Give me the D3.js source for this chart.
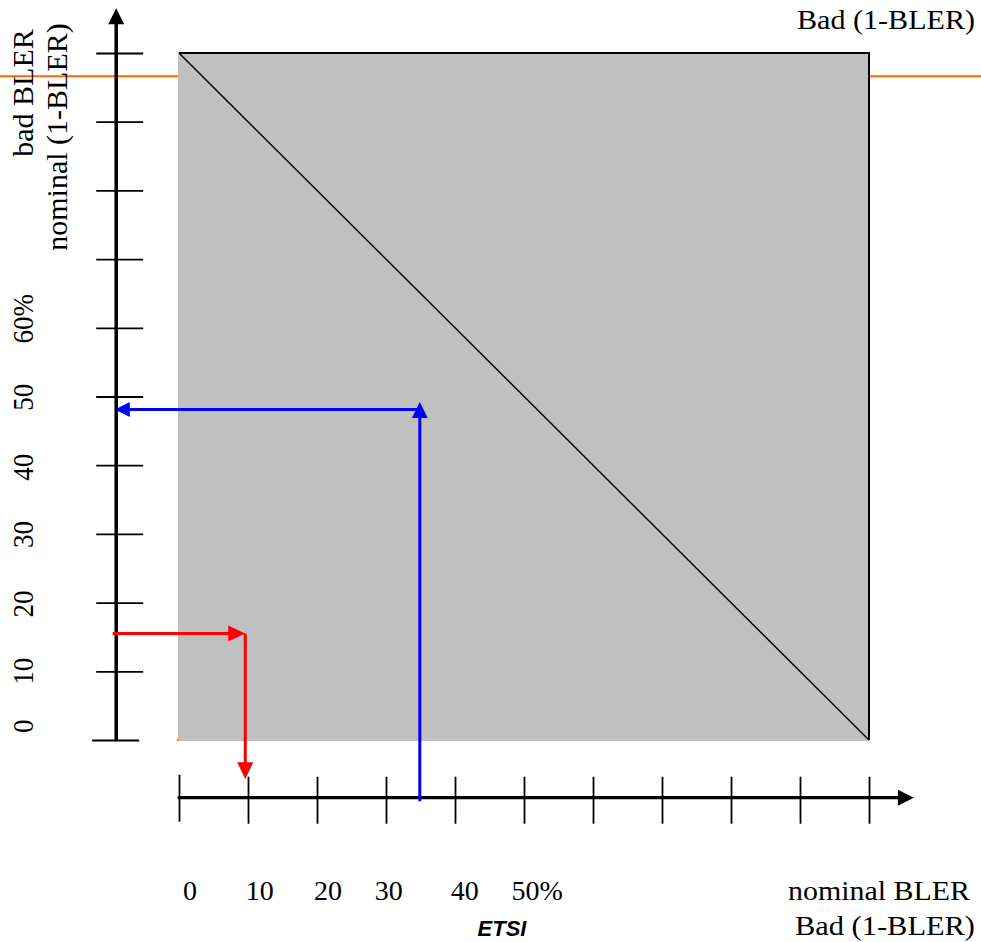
<!DOCTYPE html>
<html>
<head>
<meta charset="utf-8">
<script src="https://cdn.jsdelivr.net/npm/d3@7"></script>
<style>
  body { margin: 0; background: #fff; }
  svg { display: block; }
</style>
</head>
<body>
<svg id="chart" width="981" height="942"></svg>
<script>
// --- data (percent units) ---
const yTicks = [0, 10, 20, 30, 40, 50, 60, 70, 80, 90, 100];
const xTicks = [0, 10, 20, 30, 40, 50, 60, 70, 80, 90, 100];
const yLabels = ["0", "10", "20", "30", "40", "50", "60%"];
const yLabelAt = [2.0, 10, 19.8, 29.9, 39.7, 49.9, 61.3];
const xLabels = ["0", "10", "20", "30", "40", "50%"];
const xLabelAt = [1.6, 11.7, 21.6, 30.4, 41.4, 51.9];

// where the axes cross the other scale, and how far the arrows go
const yAxisAt = -9.1;     // x value of the vertical axis
const xAxisAt = -8.4;     // y value of the horizontal axis
const axisEnd = 106.5;

const orangeLevel = 96.6;

// red example: nominal 15.5% -> bad ~9.6%
const redH = [[-9.6, 15.5], [9.6, 15.5]];
const redV = [[9.6, 15.5], [9.6, -5.7]];
// blue example: bad ~34.9% -> nominal ~48%
const blueV = [[34.9, -8.9], [34.9, 49.2]];
const blueH = [[34.9, 48.1], [-9.3, 48.1]];

const width = 981, height = 942;
const svg = d3.select("#chart");
const x = d3.scaleLinear().domain([0, 100]).range([179, 869]);
const y = d3.scaleLinear().domain([0, 100]).range([740, 53]);

// orange line behind the square
svg.append("line")
    .attr("x1", 0).attr("x2", width)
    .attr("y1", y(orangeLevel)).attr("y2", y(orangeLevel))
    .attr("stroke", "#ff6600").attr("stroke-width", 2);

// grey square
svg.append("rect")
    .attr("x", x(0) - 1).attr("y", y(100))
    .attr("width", x(100) - x(0) + 1).attr("height", y(0) - y(100) + 1)
    .attr("fill", "#c0c0c0");
svg.append("path")
    .attr("d", `M${x(0)},${y(100)}H${x(100)}V${y(0)}`)
    .attr("fill", "none").attr("stroke", "#000").attr("stroke-width", 2);
svg.append("line")
    .attr("x1", x(0)).attr("y1", y(100)).attr("x2", x(100)).attr("y2", y(0))
    .attr("stroke", "#000").attr("stroke-width", 1.4);
svg.append("circle").attr("cx", x(0) - 1).attr("cy", y(0)).attr("r", 1.5).attr("fill", "#ff8c3a");

// arrow helper: line + filled triangle head at the last point
function arrow(pts, color, sw, headLen, headW) {
    const p0 = [x(pts[0][0]), y(pts[0][1])];
    const p1 = [x(pts[1][0]), y(pts[1][1])];
    const dx = p1[0] - p0[0], dy = p1[1] - p0[1];
    const len = Math.hypot(dx, dy), ux = dx / len, uy = dy / len;
    const bx = p1[0] - ux * headLen, by = p1[1] - uy * headLen;
    svg.append("line")
        .attr("x1", p0[0]).attr("y1", p0[1])
        .attr("x2", bx + ux * 2).attr("y2", by + uy * 2)
        .attr("stroke", color).attr("stroke-width", sw);
    const nx = -uy * headW / 2, ny = ux * headW / 2;
    svg.append("path")
        .attr("d", `M${p1[0]},${p1[1]}L${bx + nx},${by + ny}L${bx - nx},${by - ny}Z`)
        .attr("fill", color);
}

// vertical axis with ticks
const gy = svg.append("g")
    .attr("transform", `translate(${x(yAxisAt)},0)`)
    .call(d3.axisLeft(y).tickValues(yTicks).tickSize(20).tickFormat(""));
gy.select(".domain").remove();
gy.selectAll(".tick line")
    .attr("stroke", "#000").attr("stroke-width", 1.8)
    .attr("x1", d => d === 0 ? 23 : 27)
    .attr("x2", d => d === 0 ? -24 : -20);
arrow([[yAxisAt, -0.2], [yAxisAt, axisEnd]], "#000", 3.5, 16, 16);

// horizontal axis with ticks
const gx = svg.append("g")
    .attr("transform", `translate(0,${y(xAxisAt)})`)
    .call(d3.axisBottom(x).tickValues(xTicks).tickSize(26).tickFormat(""));
gx.select(".domain").remove();
gx.selectAll(".tick line")
    .attr("stroke", "#000").attr("stroke-width", 1.8)
    .attr("y1", d => d === 0 ? -23 : -21)
    .attr("y2", d => d === 0 ? 24 : 26);
arrow([[-0.2, xAxisAt], [axisEnd, xAxisAt]], "#000", 3.2, 16, 16);

// mapping arrows
arrow(redH, "#ff0000", 3, 17, 16);
arrow(redV, "#ff0000", 3, 17, 16);
arrow(blueV, "#0000ff", 3, 16, 16);
arrow(blueH, "#0000ff", 3, 15, 15);

// tick labels
const serif = "'Liberation Serif', 'Times New Roman', serif";
svg.append("g").selectAll("text")
    .data(yLabels)
    .join("text")
    .attr("transform", (d, i) => `translate(33,${y(yLabelAt[i])}) rotate(-90) scale(0.9,1)`)
    .attr("text-anchor", "middle")
    .attr("font-family", serif).attr("font-size", 30)
    .text(d => d);

svg.append("g").selectAll("text")
    .data(xLabels)
    .join("text")
    .attr("x", (d, i) => x(xLabelAt[i]))
    .attr("y", 900)
    .attr("text-anchor", "middle")
    .attr("font-family", serif).attr("font-size", 28)
    .text(d => d);

// axis titles
svg.append("text")
    .attr("transform", "translate(33,93) rotate(-90)")
    .attr("text-anchor", "middle")
    .attr("font-family", serif).attr("font-size", 30)
    .text("bad BLER");
svg.append("text")
    .attr("transform", "translate(67,137) rotate(-90)")
    .attr("text-anchor", "middle")
    .attr("font-family", serif).attr("font-size", 30)
    .text("nominal (1-BLER)");

const titles = [
    { t: "Bad (1-BLER)", x: 797, y: 29, w: 178 },
    { t: "nominal BLER", x: 788, y: 900, w: 182 },
    { t: "Bad (1-BLER)", x: 795, y: 935, w: 180 }
];
svg.append("g").selectAll("text")
    .data(titles)
    .join("text")
    .attr("x", d => d.x).attr("y", d => d.y)
    .attr("textLength", d => d.w).attr("lengthAdjust", "spacingAndGlyphs")
    .attr("font-family", serif).attr("font-size", 28)
    .text(d => d.t);

svg.append("text")
    .attr("x", 502).attr("y", 936)
    .attr("text-anchor", "middle")
    .attr("font-family", "'Liberation Sans', Arial, sans-serif")
    .attr("font-size", 22).attr("font-weight", "bold").attr("font-style", "italic")
    .text("ETSI");
</script>
</body>
</html>
